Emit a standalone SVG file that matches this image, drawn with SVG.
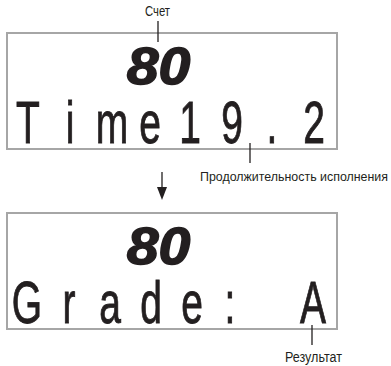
<svg xmlns="http://www.w3.org/2000/svg" width="391" height="366" viewBox="0 0 391 366">
<style>
.box{fill:#fff;stroke:#a6a6a6;stroke-width:2}
.lead{stroke:#231f20;stroke-width:1.3;fill:none}
.big{font-family:"Liberation Sans",Arial,sans-serif;font-size:60px;fill:#231f20;stroke:#231f20;stroke-width:0.9;text-anchor:middle}
.seg{font-family:"Liberation Sans",Arial,sans-serif;font-size:52px;font-weight:bold;font-style:italic;fill:#231f20;stroke:#231f20;stroke-width:1.5;text-anchor:middle}
.lbl{font-family:"Liberation Sans",Arial,sans-serif;font-size:14px;fill:#231f20}
</style>
<rect width="391" height="366" fill="#fff"/>
<g id="display1">
<rect class="box" x="7" y="33" width="330" height="116"/>
<text class="seg" transform="translate(158.5,84) scale(1.1,1)">80</text>
<text class="big" transform="scale(0.65,1)" x="43.1 107.7 172.3 230.8 292.3 356.9 418.5 483.1" y="143">Time19.2</text>
</g>
<g id="display2">
<rect class="box" x="7" y="213" width="330" height="116"/>
<text class="seg" transform="translate(158.5,264) scale(1.1,1)">80</text>
<text class="big" transform="scale(0.65,1)" x="41.5 106.2 169.2 232.3 295.4 353.8 416.9 481.5" y="323">Grade: A</text>
</g>
<g id="label-score">
<text class="lbl" x="145" y="16" textLength="25" lengthAdjust="spacingAndGlyphs">Счет</text>
</g>
<g id="label-time">
<text class="lbl" x="200" y="181" textLength="188" lengthAdjust="spacingAndGlyphs" style="font-size:12.5px">Продолжительность исполнения</text>
</g>
<g id="label-result">
<text class="lbl" x="285" y="362" textLength="57" lengthAdjust="spacingAndGlyphs">Результат</text>
</g>
<g id="connectors">
<line class="lead" x1="158" y1="21" x2="158" y2="42"/>
<line class="lead" x1="250" y1="143" x2="250" y2="163"/>
<line class="lead" x1="312" y1="325" x2="312" y2="345"/>
<line class="lead" x1="162" y1="172" x2="162" y2="190" stroke-width="1.6"/>
<polygon points="157,187 167,187 162,200" fill="#231f20"/>
</g>
</svg>
